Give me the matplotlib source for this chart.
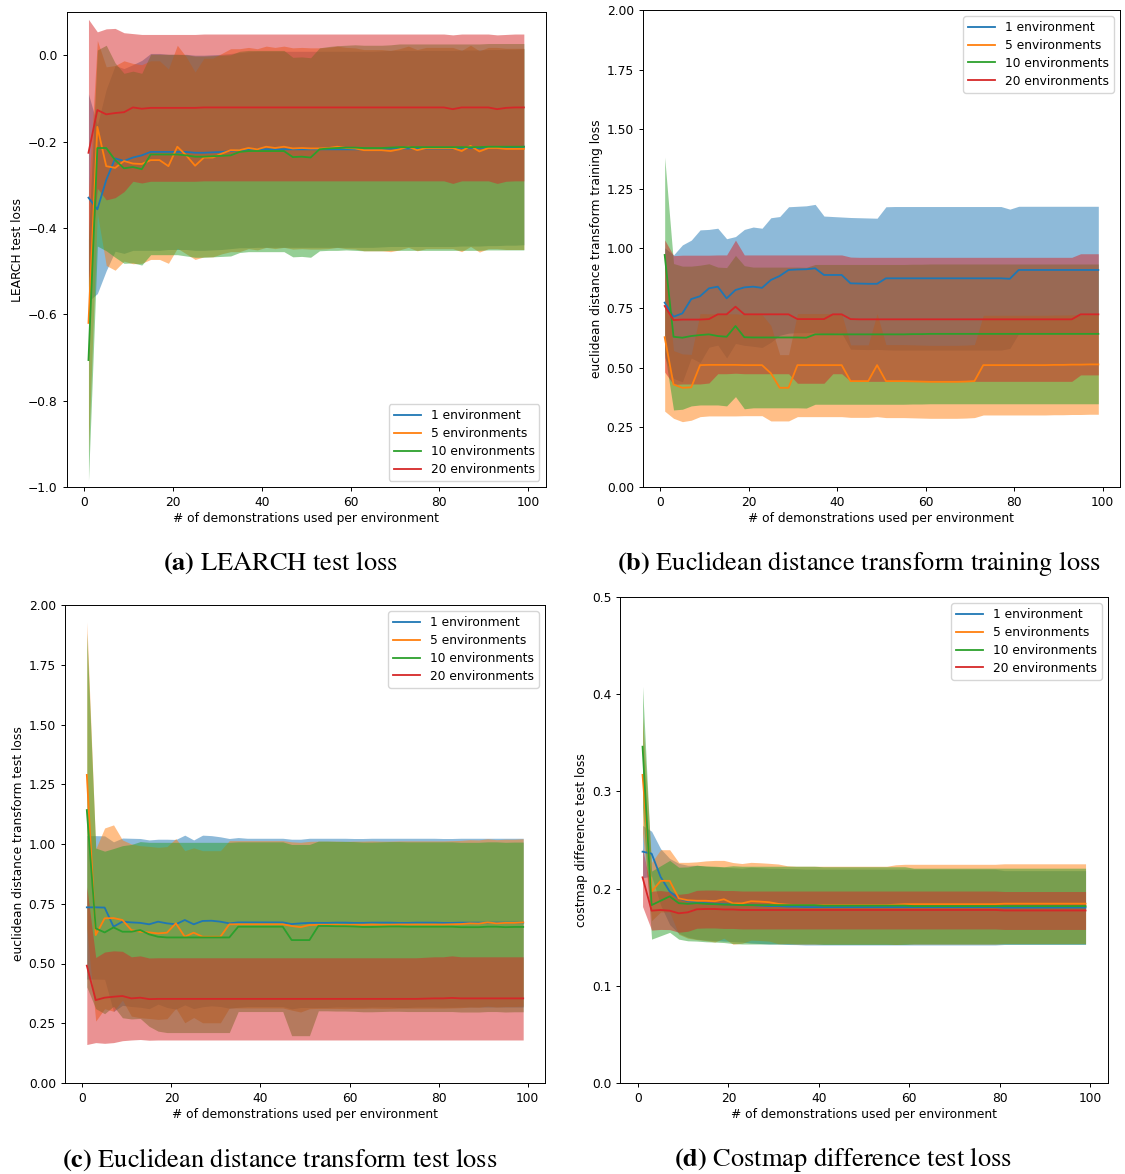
import matplotlib
matplotlib.use('Agg')
import matplotlib.pyplot as plt

plt.rcParams['mathtext.fontset'] = 'stix'

# number of demonstrations used per environment
demos = [1, 3, 5, 7, 9, 11, 13, 15, 17, 19, 21, 23, 25, 27, 29, 31, 33, 35, 37, 39,
         41, 43, 45, 47, 49, 51, 53, 55, 57, 59, 61, 63, 65, 67, 69, 71, 73, 75, 77, 79,
         81, 83, 85, 87, 89, 91, 93, 95, 97, 99]

labels = ['1 environment', '5 environments', '10 environments', '20 environments']
colors = ['C0', 'C1', 'C2', 'C3']

# (a) LEARCH test loss
a_mean_1 = [-0.330, -0.357, -0.289, -0.239, -0.245, -0.237, -0.232, -0.224, -0.224, -0.224,
            -0.224, -0.224, -0.226, -0.226, -0.225, -0.224, -0.222, -0.220, -0.219, -0.218,
            -0.218, -0.218, -0.218, -0.218, -0.218, -0.218, -0.218, -0.218, -0.218, -0.218,
            -0.218, -0.218, -0.218, -0.217, -0.216, -0.216, -0.216, -0.216, -0.216, -0.216,
            -0.216, -0.216, -0.215, -0.215, -0.215, -0.214, -0.214, -0.213, -0.213, -0.212]
a_std_1 = [0.240, 0.195, 0.210, 0.215, 0.214, 0.215, 0.220, 0.228, 0.228, 0.226,
           0.226, 0.226, 0.226, 0.226, 0.226, 0.226, 0.226, 0.226, 0.227, 0.227,
           0.227, 0.227, 0.227, 0.227, 0.227, 0.227, 0.227, 0.227, 0.227, 0.227,
           0.227, 0.227, 0.227, 0.227, 0.227, 0.227, 0.227, 0.227, 0.227, 0.227,
           0.227, 0.227, 0.227, 0.227, 0.227, 0.227, 0.227, 0.227, 0.227, 0.227]
a_mean_5 = [-0.620, -0.166, -0.257, -0.261, -0.245, -0.251, -0.252, -0.243, -0.243, -0.257,
            -0.212, -0.232, -0.256, -0.237, -0.237, -0.228, -0.220, -0.220, -0.215, -0.218,
            -0.212, -0.215, -0.212, -0.216, -0.215, -0.216, -0.216, -0.215, -0.212, -0.215,
            -0.216, -0.220, -0.220, -0.220, -0.222, -0.218, -0.212, -0.220, -0.215, -0.215,
            -0.215, -0.215, -0.222, -0.210, -0.223, -0.215, -0.215, -0.217, -0.217, -0.217]
a_std_5 = [0.300, 0.200, 0.230, 0.237, 0.232, 0.232, 0.230, 0.230, 0.230, 0.225,
           0.235, 0.228, 0.217, 0.230, 0.230, 0.232, 0.235, 0.235, 0.233, 0.233,
           0.233, 0.233, 0.233, 0.233, 0.233, 0.233, 0.233, 0.233, 0.233, 0.233,
           0.233, 0.233, 0.233, 0.233, 0.233, 0.233, 0.233, 0.233, 0.233, 0.233,
           0.233, 0.233, 0.233, 0.233, 0.233, 0.233, 0.233, 0.233, 0.233, 0.233]
a_mean_10 = [-0.706, -0.215, -0.215, -0.243, -0.262, -0.259, -0.264, -0.230, -0.230, -0.230,
             -0.230, -0.232, -0.235, -0.235, -0.234, -0.233, -0.232, -0.224, -0.222, -0.222,
             -0.222, -0.222, -0.222, -0.236, -0.235, -0.237, -0.218, -0.216, -0.215, -0.214,
             -0.214, -0.215, -0.215, -0.215, -0.214, -0.213, -0.213, -0.213, -0.213, -0.213,
             -0.213, -0.213, -0.213, -0.213, -0.213, -0.212, -0.212, -0.212, -0.212, -0.212]
a_std_10 = [0.280, 0.227, 0.238, 0.225, 0.220, 0.222, 0.222, 0.232, 0.232, 0.232,
            0.232, 0.233, 0.233, 0.233, 0.233, 0.233, 0.233, 0.233, 0.233, 0.233,
            0.233, 0.233, 0.233, 0.231, 0.231, 0.231, 0.235, 0.236, 0.237, 0.237,
            0.238, 0.238, 0.238, 0.238, 0.238, 0.239, 0.239, 0.239, 0.239, 0.239,
            0.239, 0.239, 0.239, 0.239, 0.239, 0.239, 0.239, 0.239, 0.239, 0.239]
a_mean_20 = [-0.226, -0.127, -0.137, -0.134, -0.132, -0.121, -0.124, -0.122, -0.122, -0.122,
             -0.122, -0.122, -0.122, -0.121, -0.121, -0.121, -0.121, -0.121, -0.121, -0.121,
             -0.121, -0.121, -0.121, -0.121, -0.121, -0.121, -0.121, -0.121, -0.121, -0.121,
             -0.121, -0.121, -0.121, -0.121, -0.121, -0.121, -0.121, -0.121, -0.121, -0.121,
             -0.121, -0.125, -0.121, -0.121, -0.121, -0.121, -0.125, -0.122, -0.121, -0.121]
a_std_20 = [0.309, 0.181, 0.198, 0.196, 0.184, 0.171, 0.172, 0.170, 0.170, 0.170,
            0.170, 0.170, 0.170, 0.170, 0.170, 0.170, 0.170, 0.170, 0.170, 0.170,
            0.170, 0.170, 0.170, 0.170, 0.170, 0.170, 0.170, 0.170, 0.170, 0.170,
            0.170, 0.170, 0.170, 0.170, 0.170, 0.170, 0.170, 0.170, 0.170, 0.170,
            0.170, 0.172, 0.170, 0.170, 0.170, 0.170, 0.172, 0.170, 0.170, 0.170]

# (b) Euclidean distance transform training loss
b_mean_1 = [0.773, 0.714, 0.728, 0.788, 0.800, 0.833, 0.840, 0.791, 0.826, 0.837,
            0.840, 0.835, 0.868, 0.885, 0.910, 0.912, 0.913, 0.917, 0.889, 0.889,
            0.889, 0.854, 0.853, 0.852, 0.852, 0.875, 0.875, 0.875, 0.875, 0.875,
            0.875, 0.875, 0.875, 0.875, 0.875, 0.875, 0.875, 0.875, 0.875, 0.873,
            0.910, 0.910, 0.910, 0.910, 0.910, 0.910, 0.910, 0.910, 0.910, 0.910]
b_std_1 = [0.230, 0.259, 0.287, 0.247, 0.278, 0.247, 0.245, 0.250, 0.224, 0.243,
           0.250, 0.250, 0.261, 0.249, 0.265, 0.265, 0.266, 0.268, 0.247, 0.245,
           0.243, 0.276, 0.276, 0.276, 0.275, 0.300, 0.301, 0.301, 0.301, 0.301,
           0.301, 0.301, 0.301, 0.301, 0.301, 0.301, 0.301, 0.301, 0.301, 0.292,
           0.267, 0.267, 0.267, 0.267, 0.267, 0.267, 0.267, 0.267, 0.267, 0.267]
b_mean_5 = [0.628, 0.430, 0.416, 0.418, 0.511, 0.512, 0.512, 0.512, 0.512, 0.511,
            0.511, 0.511, 0.477, 0.416, 0.416, 0.511, 0.511, 0.511, 0.511, 0.511,
            0.511, 0.444, 0.444, 0.444, 0.511, 0.444, 0.444, 0.444, 0.443, 0.442,
            0.441, 0.441, 0.441, 0.441, 0.442, 0.444, 0.511, 0.511, 0.511, 0.511,
            0.511, 0.511, 0.511, 0.511, 0.512, 0.512, 0.513, 0.513, 0.514, 0.514]
b_std_5 = [0.310, 0.142, 0.142, 0.138, 0.216, 0.214, 0.214, 0.214, 0.214, 0.212,
           0.212, 0.212, 0.200, 0.139, 0.139, 0.216, 0.216, 0.216, 0.216, 0.216,
           0.216, 0.152, 0.152, 0.152, 0.216, 0.153, 0.153, 0.153, 0.153, 0.153,
           0.153, 0.153, 0.153, 0.153, 0.153, 0.153, 0.209, 0.209, 0.209, 0.209,
           0.209, 0.209, 0.209, 0.209, 0.209, 0.209, 0.209, 0.209, 0.209, 0.209]
b_mean_10 = [0.973, 0.630, 0.626, 0.633, 0.637, 0.640, 0.633, 0.630, 0.675, 0.628,
             0.627, 0.627, 0.627, 0.627, 0.627, 0.627, 0.626, 0.640, 0.640, 0.640,
             0.640, 0.640, 0.640, 0.640, 0.640, 0.640, 0.640, 0.640, 0.641, 0.641,
             0.642, 0.642, 0.642, 0.642, 0.642, 0.642, 0.642, 0.642, 0.642, 0.642,
             0.642, 0.642, 0.642, 0.642, 0.642, 0.642, 0.642, 0.642, 0.642, 0.642]
b_std_10 = [0.410, 0.307, 0.300, 0.293, 0.293, 0.296, 0.289, 0.290, 0.296, 0.300,
            0.295, 0.295, 0.295, 0.295, 0.295, 0.295, 0.295, 0.293, 0.293, 0.293,
            0.293, 0.293, 0.293, 0.293, 0.293, 0.293, 0.293, 0.293, 0.293, 0.293,
            0.293, 0.293, 0.293, 0.293, 0.293, 0.293, 0.293, 0.293, 0.293, 0.293,
            0.293, 0.293, 0.293, 0.293, 0.293, 0.293, 0.293, 0.293, 0.293, 0.293]
b_mean_20 = [0.759, 0.700, 0.702, 0.702, 0.702, 0.704, 0.724, 0.724, 0.756, 0.724,
             0.724, 0.724, 0.724, 0.724, 0.724, 0.704, 0.704, 0.704, 0.704, 0.724,
             0.724, 0.704, 0.703, 0.703, 0.703, 0.703, 0.703, 0.703, 0.703, 0.703,
             0.703, 0.703, 0.703, 0.703, 0.703, 0.703, 0.703, 0.703, 0.703, 0.703,
             0.703, 0.703, 0.703, 0.703, 0.703, 0.703, 0.703, 0.724, 0.724, 0.724]
b_std_20 = [0.277, 0.270, 0.270, 0.270, 0.270, 0.268, 0.249, 0.249, 0.279, 0.249,
            0.249, 0.249, 0.249, 0.249, 0.249, 0.269, 0.269, 0.269, 0.269, 0.249,
            0.249, 0.260, 0.260, 0.260, 0.260, 0.260, 0.260, 0.260, 0.260, 0.260,
            0.260, 0.260, 0.260, 0.260, 0.260, 0.260, 0.260, 0.260, 0.260, 0.260,
            0.260, 0.260, 0.260, 0.260, 0.260, 0.260, 0.260, 0.254, 0.254, 0.254]

# (c) Euclidean distance transform test loss
c_mean_1 = [0.735, 0.735, 0.734, 0.654, 0.675, 0.672, 0.670, 0.664, 0.675, 0.668,
            0.664, 0.682, 0.664, 0.678, 0.679, 0.675, 0.668, 0.672, 0.672, 0.672,
            0.672, 0.672, 0.672, 0.665, 0.668, 0.670, 0.670, 0.670, 0.671, 0.671,
            0.670, 0.670, 0.671, 0.671, 0.671, 0.670, 0.670, 0.671, 0.671, 0.671,
            0.670, 0.670, 0.671, 0.671, 0.671, 0.671, 0.671, 0.671, 0.671, 0.671]
c_std_1 = [0.300, 0.300, 0.300, 0.355, 0.350, 0.352, 0.353, 0.353, 0.345, 0.352,
           0.355, 0.355, 0.353, 0.359, 0.356, 0.355, 0.355, 0.355, 0.352, 0.352,
           0.352, 0.352, 0.352, 0.355, 0.352, 0.354, 0.354, 0.354, 0.353, 0.353,
           0.353, 0.353, 0.353, 0.353, 0.353, 0.354, 0.354, 0.353, 0.353, 0.353,
           0.353, 0.353, 0.353, 0.353, 0.353, 0.353, 0.353, 0.353, 0.353, 0.353]
c_mean_5 = [1.289, 0.619, 0.689, 0.690, 0.682, 0.640, 0.633, 0.630, 0.626, 0.629,
            0.668, 0.612, 0.629, 0.612, 0.612, 0.612, 0.664, 0.664, 0.664, 0.664,
            0.664, 0.664, 0.664, 0.657, 0.652, 0.661, 0.662, 0.662, 0.662, 0.661,
            0.662, 0.662, 0.663, 0.662, 0.662, 0.663, 0.663, 0.663, 0.663, 0.663,
            0.663, 0.664, 0.665, 0.668, 0.667, 0.672, 0.668, 0.670, 0.670, 0.672]
c_std_5 = [0.640, 0.360, 0.378, 0.390, 0.335, 0.360, 0.360, 0.360, 0.360, 0.360,
           0.355, 0.360, 0.355, 0.360, 0.360, 0.360, 0.350, 0.350, 0.350, 0.350,
           0.350, 0.350, 0.350, 0.352, 0.355, 0.350, 0.350, 0.350, 0.350, 0.350,
           0.350, 0.350, 0.350, 0.350, 0.350, 0.350, 0.350, 0.350, 0.350, 0.350,
           0.350, 0.350, 0.350, 0.350, 0.350, 0.350, 0.350, 0.350, 0.350, 0.350]
c_mean_10 = [1.142, 0.647, 0.630, 0.651, 0.633, 0.633, 0.640, 0.622, 0.612, 0.609,
             0.609, 0.609, 0.609, 0.609, 0.609, 0.609, 0.609, 0.654, 0.654, 0.654,
             0.654, 0.654, 0.654, 0.598, 0.598, 0.598, 0.657, 0.657, 0.656, 0.656,
             0.655, 0.653, 0.653, 0.654, 0.655, 0.655, 0.654, 0.654, 0.654, 0.654,
             0.654, 0.654, 0.652, 0.652, 0.652, 0.654, 0.654, 0.652, 0.653, 0.653]
c_std_10 = [0.740, 0.336, 0.340, 0.330, 0.360, 0.365, 0.370, 0.385, 0.395, 0.398,
            0.398, 0.398, 0.398, 0.398, 0.398, 0.398, 0.398, 0.355, 0.355, 0.355,
            0.355, 0.355, 0.355, 0.400, 0.400, 0.400, 0.355, 0.355, 0.355, 0.355,
            0.355, 0.355, 0.355, 0.355, 0.355, 0.355, 0.355, 0.355, 0.355, 0.355,
            0.355, 0.355, 0.355, 0.355, 0.355, 0.355, 0.355, 0.355, 0.355, 0.355]
c_mean_20 = [0.491, 0.347, 0.357, 0.361, 0.364, 0.354, 0.357, 0.351, 0.352, 0.352,
             0.352, 0.352, 0.352, 0.352, 0.352, 0.352, 0.352, 0.352, 0.352, 0.352,
             0.352, 0.352, 0.352, 0.352, 0.352, 0.352, 0.352, 0.352, 0.352, 0.352,
             0.352, 0.352, 0.352, 0.352, 0.352, 0.352, 0.352, 0.352, 0.353, 0.354,
             0.354, 0.356, 0.354, 0.354, 0.354, 0.354, 0.354, 0.354, 0.354, 0.354]
c_std_20 = [0.330, 0.178, 0.191, 0.192, 0.187, 0.174, 0.175, 0.172, 0.172, 0.172,
            0.172, 0.172, 0.172, 0.172, 0.172, 0.172, 0.172, 0.172, 0.172, 0.172,
            0.172, 0.172, 0.172, 0.172, 0.172, 0.172, 0.172, 0.172, 0.172, 0.172,
            0.172, 0.172, 0.172, 0.172, 0.172, 0.172, 0.172, 0.172, 0.173, 0.174,
            0.174, 0.176, 0.174, 0.174, 0.174, 0.174, 0.174, 0.174, 0.174, 0.174]

# (d) Costmap difference test loss
d_mean_1 = [0.238, 0.236, 0.212, 0.197, 0.190, 0.187, 0.186, 0.185, 0.1845, 0.184,
            0.1835, 0.183, 0.183, 0.1825, 0.182, 0.182, 0.1815, 0.1814, 0.181, 0.181,
            0.181, 0.181, 0.181, 0.181, 0.181, 0.181, 0.181, 0.181, 0.181, 0.181,
            0.181, 0.181, 0.181, 0.181, 0.181, 0.181, 0.181, 0.181, 0.181, 0.181,
            0.1805, 0.1805, 0.1805, 0.1805, 0.1805, 0.1805, 0.1805, 0.1805, 0.1805, 0.1805]
d_std_1 = [0.027, 0.023, 0.029, 0.034, 0.036, 0.037, 0.038, 0.038, 0.038, 0.038,
           0.038, 0.038, 0.039, 0.039, 0.039, 0.039, 0.039, 0.039, 0.039, 0.039,
           0.039, 0.039, 0.039, 0.039, 0.039, 0.039, 0.039, 0.039, 0.039, 0.039,
           0.039, 0.039, 0.039, 0.039, 0.039, 0.039, 0.039, 0.039, 0.039, 0.039,
           0.038, 0.038, 0.038, 0.038, 0.038, 0.038, 0.038, 0.038, 0.038, 0.038]
d_mean_5 = [0.317, 0.197, 0.208, 0.208, 0.190, 0.188, 0.1875, 0.1875, 0.187, 0.189,
            0.1848, 0.1848, 0.187, 0.1866, 0.186, 0.1843, 0.1835, 0.183, 0.183, 0.183,
            0.183, 0.183, 0.183, 0.183, 0.183, 0.183, 0.183, 0.183, 0.1835, 0.184,
            0.184, 0.184, 0.184, 0.184, 0.184, 0.184, 0.184, 0.184, 0.184, 0.184,
            0.1845, 0.1845, 0.1845, 0.1845, 0.1845, 0.1845, 0.1845, 0.1845, 0.1845, 0.1845]
d_std_5 = [0.060, 0.030, 0.032, 0.032, 0.037, 0.039, 0.040, 0.041, 0.042, 0.040,
           0.042, 0.041, 0.040, 0.040, 0.040, 0.041, 0.040, 0.040, 0.040, 0.040,
           0.040, 0.040, 0.040, 0.040, 0.040, 0.040, 0.040, 0.040, 0.041, 0.041,
           0.041, 0.041, 0.041, 0.041, 0.041, 0.041, 0.041, 0.041, 0.041, 0.041,
           0.041, 0.041, 0.041, 0.041, 0.041, 0.041, 0.041, 0.041, 0.041, 0.041]
d_mean_10 = [0.346, 0.183, 0.1875, 0.192, 0.185, 0.1843, 0.185, 0.1843, 0.184, 0.1835,
             0.1835, 0.183, 0.183, 0.183, 0.183, 0.183, 0.183, 0.183, 0.183, 0.183,
             0.1825, 0.1825, 0.1825, 0.1825, 0.1825, 0.1825, 0.1825, 0.1825, 0.1825, 0.1825,
             0.182, 0.182, 0.182, 0.182, 0.182, 0.182, 0.182, 0.182, 0.182, 0.182,
             0.182, 0.182, 0.182, 0.182, 0.182, 0.182, 0.182, 0.182, 0.182, 0.182]
d_std_10 = [0.062, 0.035, 0.036, 0.037, 0.037, 0.038, 0.039, 0.039, 0.039, 0.039,
            0.040, 0.040, 0.040, 0.040, 0.040, 0.040, 0.040, 0.040, 0.040, 0.040,
            0.040, 0.040, 0.040, 0.040, 0.040, 0.040, 0.040, 0.040, 0.040, 0.040,
            0.039, 0.039, 0.039, 0.039, 0.039, 0.039, 0.039, 0.039, 0.039, 0.039,
            0.039, 0.039, 0.039, 0.039, 0.039, 0.039, 0.039, 0.039, 0.039, 0.039]
d_mean_20 = [0.2116, 0.1773, 0.178, 0.1773, 0.1746, 0.1756, 0.1787, 0.179, 0.179, 0.1785,
             0.1785, 0.178, 0.178, 0.178, 0.178, 0.178, 0.178, 0.178, 0.178, 0.178,
             0.178, 0.178, 0.178, 0.178, 0.178, 0.178, 0.178, 0.178, 0.178, 0.178,
             0.178, 0.178, 0.178, 0.178, 0.178, 0.178, 0.178, 0.178, 0.178, 0.178,
             0.1775, 0.1775, 0.1775, 0.1775, 0.1775, 0.1775, 0.1775, 0.1775, 0.1775, 0.1775]
d_std_20 = [0.030, 0.020, 0.020, 0.0195, 0.0195, 0.0195, 0.0195, 0.0195, 0.0195, 0.0195,
            0.0195, 0.0195, 0.0195, 0.0195, 0.0195, 0.0195, 0.0195, 0.0195, 0.0195, 0.0195,
            0.0195, 0.0195, 0.0195, 0.0195, 0.0195, 0.0195, 0.0195, 0.0195, 0.0195, 0.0195,
            0.0195, 0.0195, 0.0195, 0.0195, 0.0195, 0.0195, 0.0195, 0.0195, 0.0195, 0.0195,
            0.0195, 0.0195, 0.0195, 0.0195, 0.0195, 0.0195, 0.0195, 0.0195, 0.0195, 0.0195]

FS = 8.8  # tick / label / legend font size


def panel(fig, rect, means, stds, ylabel, ylim, yticks, legend_loc, caption, cap_xy):
  W, H = 1125.0, 1174.0
  left, top, right, bottom = rect
  ax = fig.add_axes([left / W, 1 - bottom / H, (right - left) / W, (bottom - top) / H])
  for m, s, c in zip(means, stds, colors):
    lo = [a - b for a, b in zip(m, s)]
    hi = [a + b for a, b in zip(m, s)]
    ax.fill_between(demos, lo, hi, color=c, alpha=0.5, linewidth=0)
  for m, c, lab in zip(means, colors, labels):
    ax.plot(demos, m, color=c, lw=1.3, label=lab)
  ax.set_ylim(ylim)
  ax.set_yticks(yticks)
  ax.set_xticks([0, 20, 40, 60, 80, 100])
  ax.tick_params(labelsize=FS, length=3, width=0.7)
  for sp in ax.spines.values():
    sp.set_linewidth(0.7)
  ax.set_xlabel('# of demonstrations used per environment', fontsize=FS, labelpad=2)
  ax.set_ylabel(ylabel, fontsize=FS, labelpad=3)
  ax.legend(loc=legend_loc, fontsize=FS, handlelength=2.2, labelspacing=0.4)
  fig.text(cap_xy[0] / W, 1 - cap_xy[1] / H, caption, ha='center', va='center',
           fontsize=19, family='STIXGeneral')
  return ax


fig = plt.figure(figsize=(11.25, 11.74), dpi=100)

panel(fig, (66.7, 12, 545.6, 487),
      [a_mean_1, a_mean_5, a_mean_10, a_mean_20], [a_std_1, a_std_5, a_std_10, a_std_20],
      'LEARCH test loss', (-1.0, 0.1), [-1.0, -0.8, -0.6, -0.4, -0.2, 0.0],
      'lower right', r'$\mathbf{(a)}$ LEARCH test loss', (280, 563))

panel(fig, (643, 10, 1120, 487),
      [b_mean_1, b_mean_5, b_mean_10, b_mean_20], [b_std_1, b_std_5, b_std_10, b_std_20],
      'euclidean distance transform training loss', (0, 2.0),
      [0, 0.25, 0.5, 0.75, 1.0, 1.25, 1.5, 1.75, 2.0],
      'upper right', r'$\mathbf{(b)}$ Euclidean distance transform training loss', (859, 563))

panel(fig, (65, 605, 545, 1083),
      [c_mean_1, c_mean_5, c_mean_10, c_mean_20], [c_std_1, c_std_5, c_std_10, c_std_20],
      'euclidean distance transform test loss', (0, 2.0),
      [0, 0.25, 0.5, 0.75, 1.0, 1.25, 1.5, 1.75, 2.0],
      'upper right', r'$\mathbf{(c)}$ Euclidean distance transform test loss', (280, 1160))

panel(fig, (620.4, 597, 1107.7, 1083),
      [d_mean_1, d_mean_5, d_mean_10, d_mean_20], [d_std_1, d_std_5, d_std_10, d_std_20],
      'costmap difference test loss', (0, 0.5), [0, 0.1, 0.2, 0.3, 0.4, 0.5],
      'upper right', r'$\mathbf{(d)}$ Costmap difference test loss', (843, 1160))

fig.savefig('out.png', dpi=100)
